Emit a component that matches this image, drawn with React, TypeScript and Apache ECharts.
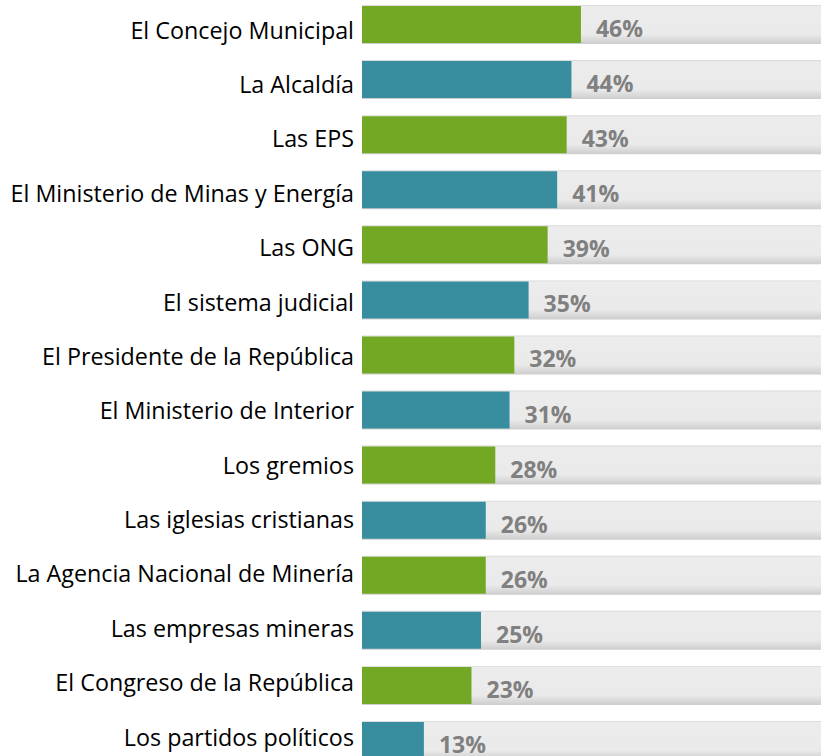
import React, { useEffect, useRef } from "react";
import * as echarts from "echarts";

const categories = [
  "El Concejo Municipal",
  "La Alcaldía",
  "Las EPS",
  "El Ministerio de Minas y Energía",
  "Las ONG",
  "El sistema judicial",
  "El Presidente de la República",
  "El Ministerio de Interior",
  "Los gremios",
  "Las iglesias cristianas",
  "La Agencia Nacional de Minería",
  "Las empresas mineras",
  "El Congreso de la República",
  "Los partidos políticos",
];
const values = [46, 44, 43, 41, 39, 35, 32, 31, 28, 26, 26, 25, 23, 13];
const fullValues = categories.map(() => 100);
const colors = ["#73a824", "#388e9e"];

export default function App() {
  const ref = useRef<HTMLDivElement>(null);
  useEffect(() => {
    if (!ref.current) return;
    const chart = echarts.init(ref.current, undefined, { renderer: "svg" });
    const font = "'Open Sans', sans-serif";
    chart.setOption({
      animation: false,
      grid: [
        { left: 362, top: 0, width: 476, height: 771, containLabel: false },
        { left: 362, top: 5.5, width: 476, height: 761.3, containLabel: false },
      ],
      xAxis: [
        { type: "value", min: 0, max: 100, show: false, gridIndex: 0 },
        { type: "value", min: 0, max: 100, show: false, gridIndex: 1 },
      ],
      yAxis: [
        {
          type: "category",
          gridIndex: 0,
          data: categories,
          inverse: true,
          show: false,
        },
        {
          type: "category",
          gridIndex: 0,
          data: categories,
          inverse: true,
          show: false,
        },
        {
          type: "category",
          gridIndex: 1,
          data: categories,
          inverse: true,
          axisLine: { show: false },
          axisTick: { show: false },
          splitLine: { show: false },
          axisLabel: { color: "#000", fontSize: 23.3, fontFamily: font, margin: 8 },
        },
      ],
      series: [
        {
          type: "bar",
          xAxisIndex: 0,
          yAxisIndex: 1,
          data: fullValues,
          barWidth: 39,
          silent: true,
          itemStyle: {
            color: new echarts.graphic.LinearGradient(0, 0, 0, 1, [
              { offset: 0, color: "#d6d6d6" },
              { offset: 0.04, color: "#ececec" },
              { offset: 0.75, color: "#eaeaea" },
              { offset: 1, color: "#cdcdcd" },
            ]),
          },
        },
        {
          type: "bar",
          xAxisIndex: 0,
          yAxisIndex: 0,
          data: values.map((v, i) => ({ value: v, itemStyle: { color: colors[i % 2] } })),
          barWidth: 37,
          label: {
            show: true,
            position: "right",
            distance: 15,
            offset: [0, 3.5],
            formatter: "{c}%",
            color: "#808080",
            fontWeight: "bold",
            fontSize: 23,
            fontFamily: font,
          },
        },
      ],
    });
    return () => chart.dispose();
  }, []);
  return (
    <div style={{ position: "absolute", left: 0, top: 0, width: 821, height: 756, overflow: "hidden", background: "#fff" }}>
      <div ref={ref} style={{ position: "absolute", left: 0, top: -3, width: 840, height: 771 }} />
    </div>
  );
}
